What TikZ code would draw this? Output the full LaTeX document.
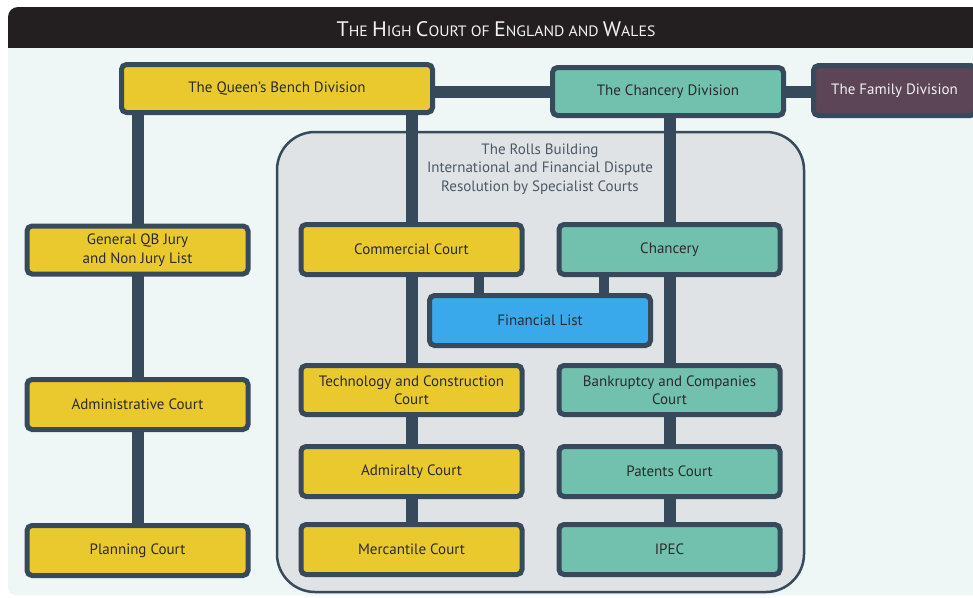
\documentclass[tikz,border=0pt]{standalone}
\usepackage{fontspec}
\setmainfont{PT Sans}
\definecolor{titlebar}{HTML}{231F20}
\definecolor{panel}{HTML}{EEF7F6}
\definecolor{rollsfill}{HTML}{E0E3E6}
\definecolor{edge}{HTML}{364A5B}
\definecolor{qbyellow}{HTML}{EAC92F}
\definecolor{chteal}{HTML}{72C1AF}
\definecolor{finblue}{HTML}{3AA9EC}
\definecolor{fampurple}{HTML}{5B4557}
\definecolor{boxtext}{HTML}{2B2B2B}
\definecolor{rollstext}{HTML}{4B5866}
\pgfdeclarelayer{back}
\pgfdeclarelayer{conn}
\pgfsetlayers{back,conn,main}
\newcommand{\tcapbig}{\fontsize{21}{24}\selectfont}
\newcommand{\tcapsmall}{\fontsize{15}{24}\selectfont}
\tikzset{
  courtbox/.style={draw=edge, line width=5pt, rounded corners=5pt, text=boxtext,
    font=\fontsize{15}{18.5}\selectfont, align=center, inner sep=0pt,
    minimum width=221pt, minimum height=48pt},
  qbbox/.style={courtbox, fill=qbyellow},
  chbox/.style={courtbox, fill=chteal},
  finbox/.style={courtbox, fill=finblue},
  fambox/.style={courtbox, fill=fampurple, text=white!92!fampurple},
  link/.style={draw=edge, line width=12pt},
  thinlink/.style={draw=edge, line width=10pt}
}
\begin{document}
\begin{tikzpicture}[x=1pt,y=-1pt]
\useasboundingbox (0,0) rectangle (973,597);
\begin{pgfonlayer}{back}
\fill[white] (0,0) rectangle (973,597);
\fill[titlebar] (990,48) -- (8,48) [rounded corners=10pt] -- (8,7) [sharp corners] -- (990,7) -- cycle;
\fill[panel] (990,48) -- (8,48) [rounded corners=8pt] -- (8,595) [sharp corners] -- (990,595) -- cycle;
\draw[draw=edge, fill=rollsfill, line width=2.5pt, rounded corners=38pt] (277,132) rectangle (804,592);
\end{pgfonlayer}

\node[text=white!95!black, inner sep=0pt] (title) at (496,29)
  {\scalebox{1.05}[1]{\tcapbig T\tcapsmall HE \tcapbig H\tcapsmall IGH \tcapbig C\tcapsmall OURT OF \tcapbig E\tcapsmall NGLAND AND \tcapbig W\tcapsmall ALES}};

\node[qbbox, minimum width=311pt, minimum height=48pt] (qb) at (277,88.5) {The Queen’s Bench Division};
\node[chbox, minimum width=231pt, minimum height=48pt] (chd) at (668,91.5) {The Chancery Division};
\node[fambox, minimum width=162pt, minimum height=50pt] (fam) at (894.5,90.5) {The Family Division};

\node[text=rollstext, font=\fontsize{15}{18.5}\selectfont, align=center] (rolls) at (540,169)
  {The Rolls Building\\International and Financial Dispute\\Resolution by Specialist Courts};

\node[qbbox] (gqb) at (137.5,250) {General QB Jury\\and Non Jury List};
\node[qbbox, minimum height=50pt] (adm) at (137.5,404.5) {Administrative Court};
\node[qbbox, minimum height=50pt] (pla) at (137.5,550.5) {Planning Court};

\node[qbbox, minimum height=50pt] (com) at (411.5,249.5) {Commercial Court};
\node[chbox, minimum height=50pt] (chn) at (669.5,249.5) {Chancery};
\node[finbox, minimum height=50pt] (fin) at (540,320.5) {Financial List};
\node[qbbox, minimum height=49pt] (tec) at (411.5,390) {Technology and Construction\\Court};
\node[chbox, minimum height=49pt] (ban) at (669.5,390) {Bankruptcy and Companies\\Court};
\node[qbbox, minimum height=50pt] (adml) at (411.5,471.5) {Admiralty Court};
\node[chbox, minimum height=50pt] (pat) at (669.5,471.5) {Patents Court};
\node[qbbox, minimum height=50pt] (mer) at (411.5,549.5) {Mercantile Court};
\node[chbox, minimum height=50pt] (ipec) at (669.5,549.5) {IPEC};

\begin{pgfonlayer}{conn}
\draw[link] (qb.east |- chd.center) -- (chd.center) -- (fam.west |- chd.center);
\draw[link] (gqb.center |- qb.south) -- (gqb.center) -- (adm.center) -- (pla.center);
\draw[link] (com.center |- qb.south) -- (com.center) -- (tec.center) -- (adml.center) -- (mer.center);
\draw[link] (chn.center |- chd.south) -- (chn.center) -- (ban.center) -- (pat.center) -- (ipec.center);
\draw[thinlink] ([xshift=-61pt]fin.north) -- ([xshift=-61pt]fin.north |- com.south);
\draw[thinlink] ([xshift=64pt]fin.north) -- ([xshift=64pt]fin.north |- chn.south);
\end{pgfonlayer}
\end{tikzpicture}
\end{document}
